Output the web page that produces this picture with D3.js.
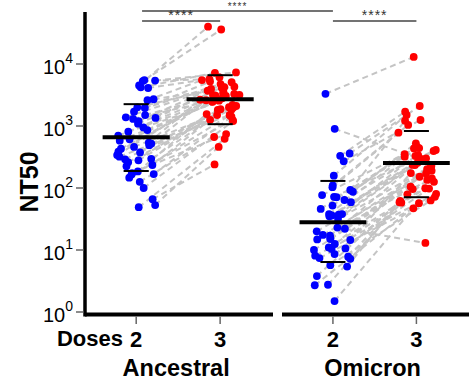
<!DOCTYPE html>
<html>
<head>
<meta charset="utf-8">
<script src="https://cdn.jsdelivr.net/npm/d3@7"></script>
<style>
  body { margin: 0; background: #fff; }
  svg { display: block; font-family: "Liberation Sans", Arial, sans-serif; }
</style>
</head>
<body>
<div id="chart"></div>
<script>
// values, one entry per subject (index = same subject at dose 2 and dose 3)
const panels = ['Ancestral', 'Omicron']
const doses = [2, 3]

const ancestralDose2 = [5500, 5400, 5300, 4500, 4200, 4100, 2700, 2600, 2000, 1950, 1700, 1500,
  1380, 1350, 1300, 1200, 1090, 950, 860, 810, 700, 610, 580, 540, 520, 490, 460, 430, 385, 375,
  340, 320, 295, 290, 280, 260, 235, 225, 185, 173, 168, 165, 147, 126, 100, 66, 53, 49]
const ancestralDose3 = [36000, 7300, 5700, 40000, 7200, 6100, 4300, 5500, 3700, 5200, 4750, 3350,
  5100, 4150, 2800, 3950, 4250, 3160, 2560, 3550, 3050, 2450, 3280, 2650, 2100, 3150, 1990, 2480,
  3080, 1850, 2600, 1510, 2010, 1870, 2180, 1500, 1260, 1810, 1560, 740, 1410, 1240, 1490, 665,
  1200, 240, 460, 620]

const omicronDose2 = [3300, 900, 360, 330, 270, 158, 110, 103, 93, 87, 77, 72, 71, 64, 59, 52, 46,
  38, 38, 37, 36, 35, 32, 23, 22, 20, 17.5, 17, 15.5, 15, 14.8, 14.5, 12.5, 11, 10.6, 10.4, 10,
  8.6, 8.1, 7.8, 7.4, 7.2, 5.7, 5.4, 3.8, 2.75, 2.7, 1.5]
const omicronDose3 = [13000, 292, 2100, 1700, 1250, 1510, 780, 1040, 1220, 526, 450, 410, 440,
  340, 395, 353, 435, 320, 256, 328, 301, 236, 288, 202, 13, 228, 190, 234, 172, 224, 143, 174,
  152, 126, 135, 99, 105, 98, 80, 96, 72, 79, 63, 59, 62, 58, 57, 47]

// summary lines as drawn in the figure: [dose 2, dose 3] per panel
const medians = [[660, 2700], [28, 253]]
const lowerQuartiles = [[188, 1070], [6.4, 71]]
const upperQuartiles = [[2250, 6600], [130, 830]]

const yTicks = [1, 10, 100, 1000, 10000]
const stars = '****'

const width = 469, height = 380
const colors = { 2: '#0000ff', 3: '#ff0000' }
const panelRanges = [[85, 273], [282, 469]]

const svg = d3.select('#chart').append('svg')
  .attr('width', width)
  .attr('height', height)

const y = d3.scaleLog().domain([1, 1e4]).range([312, 64])
const xScales = panelRanges.map(r => d3.scaleLinear().domain([1.39, 3.63]).range(r))

// y axis
const yAxis = svg.append('g').attr('transform', 'translate(85,0)')
yAxis.append('line')
  .attr('y1', 12).attr('y2', 316.5)
  .attr('stroke', '#000').attr('stroke-width', 3.5)
const yTick = yAxis.selectAll('g.tick')
  .data(yTicks)
  .join('g')
  .attr('class', 'tick')
  .attr('transform', d => `translate(0,${y(d)})`)
yTick.append('line')
  .attr('x1', -9).attr('x2', -1.5)
  .attr('stroke', '#666').attr('stroke-width', 1.5)
const yLabel = yTick.append('text')
  .attr('x', -12).attr('y', 10)
  .attr('text-anchor', 'end')
  .attr('font-size', 20)
  .attr('fill', '#000')
yLabel.append('tspan').text('10')
yLabel.append('tspan')
  .attr('dy', -11).attr('font-size', 14)
  .text(d => Math.round(Math.log10(d)))

svg.append('text')
  .attr('transform', 'translate(38,182) rotate(-90)')
  .attr('text-anchor', 'middle')
  .attr('font-size', 25).attr('font-weight', 'bold')
  .text('NT50')

svg.append('text')
  .attr('x', 123).attr('y', 346)
  .attr('text-anchor', 'end')
  .attr('font-size', 22).attr('font-weight', 'bold')
  .text('Doses')

// one panel per variant
const data = [[ancestralDose2, ancestralDose3], [omicronDose2, omicronDose3]]
const jitterRng = d3.randomUniform.source(d3.randomLcg(0.4127))(-0.24, 0.24)

panels.forEach((name, p) => {
  const x = xScales[p]
  const g = svg.append('g').attr('class', 'panel')

  // x axis
  g.append('line')
    .attr('x1', panelRanges[p][0]).attr('x2', panelRanges[p][1])
    .attr('y1', 314.5).attr('y2', 314.5)
    .attr('stroke', '#000').attr('stroke-width', 4)
  g.selectAll('line.xtick')
    .data(doses)
    .join('line')
    .attr('class', 'xtick')
    .attr('x1', d => x(d)).attr('x2', d => x(d))
    .attr('y1', 316.5).attr('y2', 324)
    .attr('stroke', '#666').attr('stroke-width', 1.5)
  g.selectAll('text.xlabel')
    .data(doses)
    .join('text')
    .attr('class', 'xlabel')
    .attr('x', d => x(d)).attr('y', 347)
    .attr('text-anchor', 'middle')
    .attr('font-size', 22).attr('font-weight', 'bold')
    .text(d => d)
  g.append('text')
    .attr('x', (x(2) + x(3)) / 2 - 2).attr('y', 376)
    .attr('text-anchor', 'middle')
    .attr('font-size', 23.5).attr('font-weight', 'bold')
    .text(name)

  // subjects with a jittered x for each dose
  const subjects = data[p][0].map((v, i) => ({
    v2: v, v3: data[p][1][i],
    j2: jitterRng(), j3: jitterRng()
  }))

  g.append('g').selectAll('line')
    .data(subjects)
    .join('line')
    .attr('x1', d => x(2 + d.j2)).attr('y1', d => y(d.v2))
    .attr('x2', d => x(3 + d.j3)).attr('y2', d => y(d.v3))
    .attr('stroke', '#c4c4c4').attr('stroke-width', 2)
    .attr('stroke-dasharray', '6,4')

  doses.forEach(dose => {
    g.append('g').selectAll('circle')
      .data(subjects)
      .join('circle')
      .attr('cx', d => x(dose + (dose === 2 ? d.j2 : d.j3)))
      .attr('cy', d => y(dose === 2 ? d.v2 : d.v3))
      .attr('r', 3.9)
      .attr('fill', colors[dose])
  })

  // median and quartile bars
  doses.forEach((dose, k) => {
    g.append('line')
      .attr('x1', x(dose - 0.4)).attr('x2', x(dose + 0.4))
      .attr('y1', y(medians[p][k])).attr('y2', y(medians[p][k]))
      .attr('stroke', '#000').attr('stroke-width', 4)
    ;[lowerQuartiles[p][k], upperQuartiles[p][k]].forEach(q => {
      g.append('line')
        .attr('x1', x(dose - 0.15)).attr('x2', x(dose + 0.15))
        .attr('y1', y(q)).attr('y2', y(q))
        .attr('stroke', '#000').attr('stroke-width', 2)
    })
  })
})

// significance brackets
const brackets = [
  { x1: xScales[0](2.07), x2: xScales[1](2), y: 11, fs: 10 },
  { x1: xScales[0](2.07), x2: xScales[0](3), y: 21, fs: 14 },
  { x1: xScales[1](2), x2: xScales[1](3), y: 21, fs: 14 }
]
const sig = svg.append('g')
sig.selectAll('line')
  .data(brackets)
  .join('line')
  .attr('x1', d => d.x1).attr('x2', d => d.x2)
  .attr('y1', d => d.y).attr('y2', d => d.y)
  .attr('stroke', '#444').attr('stroke-width', 1.6)
sig.selectAll('text')
  .data(brackets)
  .join('text')
  .attr('x', d => (d.x1 + d.x2) / 2).attr('y', d => d.y - 1)
  .attr('text-anchor', 'middle')
  .attr('font-size', d => d.fs).attr('letter-spacing', 1)
  .attr('fill', '#333')
  .text(stars)
</script>
</body>
</html>
